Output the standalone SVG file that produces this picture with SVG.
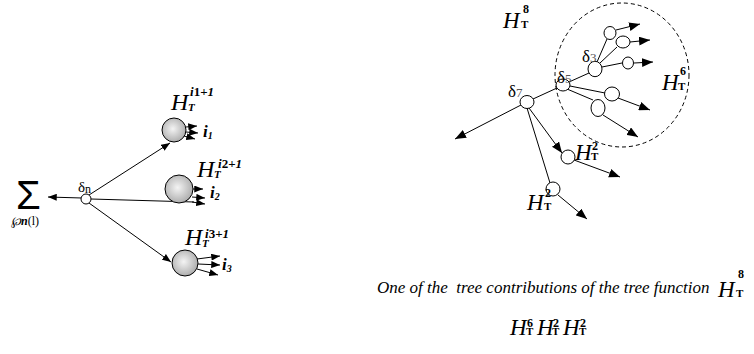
<svg xmlns="http://www.w3.org/2000/svg" width="754" height="354" viewBox="0 0 754 354">
<defs>
<style>
.ln{stroke:#000;stroke-width:1;fill:none}
.nd{fill:#fff;stroke:#000;stroke-width:1}
.sp{fill:url(#g);stroke:#000;stroke-width:1}
.dash{fill:none;stroke:#000;stroke-width:1;stroke-dasharray:4 3}
text{font-family:"Liberation Serif","Times New Roman",serif;fill:#000}
.H{font-style:italic;font-size:23px}
.HL{font-style:italic;font-size:24px}
.T{font-weight:bold;font-size:11px}
.TL{font-weight:bold;font-style:italic;font-size:11px}
.s{font-weight:bold;font-size:12px}
.sup{font-size:13px;font-weight:bold}
.il{font-weight:bold;font-style:italic;font-size:17px}
.cap{font-style:italic;font-size:17px;white-space:pre}
.d{font-size:17px}
.dn{font-size:13px;fill:#555}
</style>
<radialGradient id="g" cx="0.45" cy="0.45" r="0.6">
<stop offset="0" stop-color="#f4f4f4"/>
<stop offset="1" stop-color="#a8a8a8"/>
</radialGradient>
<marker id="ah" viewBox="0 0 10 8" refX="10" refY="4" markerWidth="11" markerHeight="9" orient="auto" markerUnits="userSpaceOnUse"><path d="M0,0 L10,4 L0,8 z" fill="#000"/></marker>
<marker id="as" viewBox="0 0 10 8" refX="10" refY="4" markerWidth="9" markerHeight="7" orient="auto" markerUnits="userSpaceOnUse"><path d="M0,0 L10,4 L0,8 z" fill="#000"/></marker>
</defs>

<g id="connectors">
<!-- left -->
<line class="ln" x1="82" y1="198" x2="48" y2="197" marker-end="url(#as)"/>
<line class="ln" x1="89" y1="195" x2="170" y2="143" marker-end="url(#as)"/>
<line class="ln" x1="91" y1="199" x2="194" y2="202"/>
<line class="ln" x1="89" y1="203" x2="171" y2="262" marker-end="url(#as)"/>
<line class="ln" x1="186" y1="127" x2="197" y2="126" marker-end="url(#as)"/>
<line class="ln" x1="186" y1="132" x2="198" y2="133" marker-end="url(#as)"/>
<line class="ln" x1="184" y1="136" x2="195" y2="139" marker-end="url(#as)"/>
<line class="ln" x1="191" y1="189" x2="203" y2="189" marker-end="url(#as)"/>
<line class="ln" x1="192" y1="197" x2="205" y2="198" marker-end="url(#as)"/>
<line class="ln" x1="192" y1="202" x2="205" y2="204" marker-end="url(#as)"/>
<line class="ln" x1="197" y1="259" x2="220" y2="256" marker-end="url(#as)"/>
<line class="ln" x1="198" y1="264" x2="220" y2="265" marker-end="url(#as)"/>
<line class="ln" x1="197" y1="269" x2="218" y2="275" marker-end="url(#as)"/>
<!-- right -->
<line class="ln" x1="533" y1="99" x2="557" y2="88"/>
<line class="ln" x1="569" y1="82" x2="589" y2="73"/>
<line class="ln" x1="597" y1="62" x2="607" y2="39"/>
<line class="ln" x1="600" y1="63" x2="617" y2="47"/>
<line class="ln" x1="602" y1="67" x2="622" y2="63"/>
<line class="ln" x1="616" y1="30" x2="640" y2="24" marker-end="url(#ah)"/>
<line class="ln" x1="630" y1="42" x2="650" y2="40" marker-end="url(#ah)"/>
<line class="ln" x1="634" y1="63" x2="653" y2="62" marker-end="url(#ah)"/>
<line class="ln" x1="570" y1="86" x2="605" y2="93"/>
<line class="ln" x1="567" y1="89" x2="593" y2="100"/>
<line class="ln" x1="618" y1="98" x2="650" y2="110" marker-end="url(#ah)"/>
<line class="ln" x1="603" y1="115" x2="638" y2="137" marker-end="url(#ah)"/>
<line class="ln" x1="521" y1="105" x2="455" y2="139" marker-end="url(#ah)"/>
<line class="ln" x1="529" y1="108" x2="562" y2="153" marker-end="url(#ah)"/>
<line class="ln" x1="574" y1="160" x2="620" y2="177" marker-end="url(#ah)"/>
<line class="ln" x1="527" y1="108" x2="550" y2="183"/>
<line class="ln" x1="558" y1="195" x2="587" y2="219" marker-end="url(#ah)"/>
<ellipse class="dash" cx="622" cy="75" rx="67" ry="72"/>
</g>

<g id="sum">
<text x="16" y="209" style="font-family:'Liberation Sans',Arial,sans-serif;font-size:40px">Σ</text>
<text x="11" y="225" style="font-size:12px"><tspan font-style="italic">℘</tspan><tspan font-style="italic" font-weight="bold">n</tspan>(l)</text>
</g>

<g id="delta-n">
<ellipse class="nd" cx="86" cy="199" rx="5" ry="5"/>
<text x="78" y="192" style="font-size:15px">δ<tspan font-size="12" dy="1">n</tspan></text>
</g>

<g id="sphere1">
<circle class="sp" cx="174" cy="130" r="12"/>
<text class="HL" x="171" y="110">H</text>
<text class="TL" x="188" y="111">T</text>
<text class="sup" x="190" y="96"><tspan font-style="italic">i</tspan>1+<tspan font-style="italic">1</tspan></text>
<text class="il" x="203" y="137">i<tspan font-size="10" dy="2">1</tspan></text>
</g>

<g id="sphere2">
<circle class="sp" cx="179" cy="189" r="14"/>
<text class="HL" x="197" y="177">H</text>
<text class="TL" x="214" y="178">T</text>
<text class="sup" x="218" y="168"><tspan font-style="italic">i</tspan>2+<tspan font-style="italic">1</tspan></text>
<text class="il" x="210" y="198">i<tspan font-size="10" dy="2">2</tspan></text>
</g>

<g id="sphere3">
<circle class="sp" cx="185" cy="263" r="13"/>
<text class="HL" x="185" y="245">H</text>
<text class="TL" x="202" y="247">T</text>
<text class="sup" x="205" y="238"><tspan font-style="italic">i</tspan>3+<tspan font-style="italic">1</tspan></text>
<text class="il" x="222" y="270">i<tspan font-size="10" dy="2">3</tspan></text>
</g>

<g id="H8-top">
<text class="H" x="503" y="28">H</text><text class="s" x="523" y="13">8</text><text class="T" x="521" y="28">T</text>
</g>

<g id="delta7">
<ellipse class="nd" cx="527" cy="102" rx="7" ry="6.5"/>
<text class="d" x="508" y="97">δ<tspan class="dn">7</tspan></text>
</g>
<g id="delta5">
<ellipse class="nd" cx="563" cy="85" rx="7" ry="6"/>
<text class="d" x="557" y="83">δ<tspan class="dn">5</tspan></text>
</g>
<g id="delta3">
<ellipse class="nd" cx="595" cy="69" rx="7" ry="7.7"/>
<text class="d" x="582" y="62">δ<tspan class="dn">3</tspan></text>
</g>
<g id="n-c1"><ellipse class="nd" cx="610" cy="33" rx="6" ry="6.5"/></g>
<g id="n-c2"><ellipse class="nd" cx="623" cy="42" rx="7" ry="6"/></g>
<g id="n-c3"><ellipse class="nd" cx="628" cy="63" rx="5.5" ry="6"/></g>
<g id="n-c4"><ellipse class="nd" cx="612" cy="94" rx="7.5" ry="7"/></g>
<g id="n-c5"><ellipse class="nd" cx="598" cy="108" rx="7" ry="8.5"/></g>

<g id="H6">
<text class="H" x="662" y="90">H</text><text class="s" x="680" y="75">6</text><text class="T" x="678" y="90">T</text>
</g>

<g id="n-c6">
<ellipse class="nd" cx="568" cy="157" rx="7" ry="7"/>
<text class="H" x="575" y="160">H</text><text class="s" x="592" y="150">2</text><text class="T" x="591" y="160">T</text>
</g>
<g id="n-c7">
<ellipse class="nd" cx="553" cy="189" rx="7" ry="7"/>
<text class="H" x="527" y="210">H</text><text class="s" x="545" y="197">2</text><text class="T" x="544" y="210">T</text>
</g>

<g id="caption">
<text class="cap" x="377" y="293" xml:space="preserve">One of the  tree contributions of the tree function</text>
<text class="H" x="718" y="297">H</text><text class="s" x="738" y="278">8</text><text class="T" x="736" y="297">T</text>
</g>
<g id="product">
<text class="H" x="510" y="335">H</text><text class="s" x="527" y="327">6</text><text class="T" x="526" y="335">T</text>
<text class="H" x="537" y="335">H</text><text class="s" x="553" y="327">2</text><text class="T" x="552" y="335">T</text>
<text class="H" x="563" y="335">H</text><text class="s" x="580" y="327">2</text><text class="T" x="579" y="335">T</text>
</g>
</svg>
